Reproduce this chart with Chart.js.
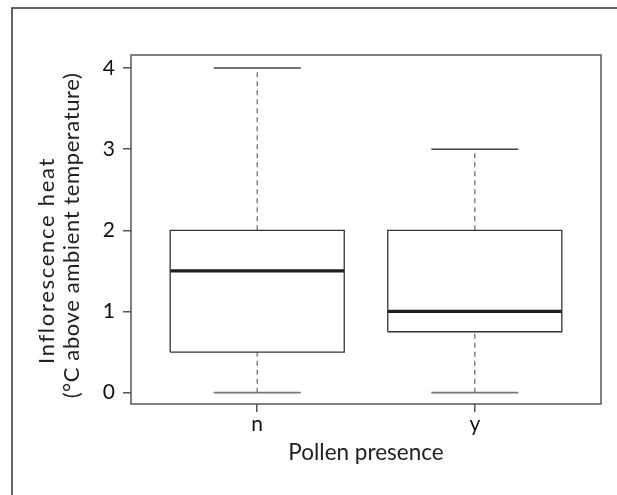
<!DOCTYPE html>
<html>
<head>
<meta charset="utf-8">
<script src="https://cdn.jsdelivr.net/npm/chart.js@4"></script>
<style>
  html, body { margin: 0; padding: 0; background: #fff; }
  #wrap { position: relative; width: 617px; height: 495px; }
</style>
</head>
<body>
<div id="wrap"><canvas id="c" width="617" height="495"></canvas></div>
<script>
// ---- data ----
const categories = ['n', 'y'];
const minValues    = [0, 0];
const q1Values     = [0.5, 0.75];
const medianValues = [1.5, 1];
const q3Values     = [2, 2];
const maxValues    = [4, 3];
const yTicks = [0, 1, 2, 3, 4];
const yTitleLines = ['Inflorescence heat', '(°C above ambient temperature)'];
const xTitle = 'Pollen presence';

// ---- style constants ----
const BOX_HALF = 0.4;    // half box width in category units
const CAP_HALF = 0.2;    // half staple width
const FONT = 'Lato, "Open Sans", "DejaVu Sans", sans-serif';

const datasets = [];
categories.forEach((cat, i) => {
  const x = i + 1;
  datasets.push({
    data: [
      {x: x - BOX_HALF, y: q1Values[i]}, {x: x + BOX_HALF, y: q1Values[i]},
      {x: x + BOX_HALF, y: q3Values[i]}, {x: x - BOX_HALF, y: q3Values[i]},
      {x: x - BOX_HALF, y: q1Values[i]}
    ],
    borderColor: '#333', borderWidth: 1.3, showLine: true, pointRadius: 0, fill: false
  });
  datasets.push({
    data: [{x: x, y: q3Values[i]}, {x: x, y: maxValues[i]}],
    borderColor: '#666', borderWidth: 1.2, borderDash: [5, 4], showLine: true, pointRadius: 0
  });
  datasets.push({
    data: [{x: x, y: minValues[i]}, {x: x, y: q1Values[i]}],
    borderColor: '#666', borderWidth: 1.2, borderDash: [5, 4], showLine: true, pointRadius: 0
  });
  datasets.push({
    data: [{x: x - CAP_HALF, y: maxValues[i]}, {x: x + CAP_HALF, y: maxValues[i]}],
    borderColor: '#444', borderWidth: 1.5, showLine: true, pointRadius: 0
  });
  datasets.push({
    data: [{x: x - CAP_HALF, y: minValues[i]}, {x: x + CAP_HALF, y: minValues[i]}],
    borderColor: '#777', borderWidth: 1.6, showLine: true, pointRadius: 0
  });
  datasets.push({
    data: [{x: x - BOX_HALF, y: medianValues[i]}, {x: x + BOX_HALF, y: medianValues[i]}],
    borderColor: '#1e1e1e', borderWidth: 3.2, showLine: true, pointRadius: 0
  });
});

const framePlugin = {
  id: 'frame',
  beforeDraw(chart) {
    const ctx = chart.ctx;
    ctx.save();
    ctx.fillStyle = '#fff';
    ctx.fillRect(0, 0, chart.width, chart.height);
    ctx.strokeStyle = '#333';
    ctx.lineWidth = 1.5;
    ctx.beginPath();
    ctx.moveTo(12, chart.height);
    ctx.lineTo(12, 8);
    ctx.lineTo(chart.width, 8);
    ctx.stroke();
    ctx.restore();
  },
  afterDatasetsDraw(chart) {
    const {left, right, top, bottom} = chart.chartArea;
    const ctx = chart.ctx;
    ctx.save();
    ctx.strokeStyle = '#555';
    ctx.lineWidth = 1.5;
    ctx.strokeRect(left, top, right - left, bottom - top);
    ctx.restore();
  },
  afterDraw(chart) {
    const ctx = chart.ctx;
    const cy = (chart.chartArea.top + chart.chartArea.bottom) / 2;
    const specs = [
      {text: yTitleLines[0], x: 47, dy: 31, spacing: '1.7px'},
      {text: yTitleLines[1], x: 72, dy: 6, spacing: '0.6px'}
    ];
    ctx.save();
    ctx.fillStyle = '#222';
    ctx.font = '22px ' + FONT;
    ctx.textAlign = 'center';
    ctx.textBaseline = 'middle';
    specs.forEach(s => {
      ctx.save();
      ctx.translate(s.x, cy + s.dy);
      ctx.rotate(-Math.PI / 2);
      if ('letterSpacing' in ctx) ctx.letterSpacing = s.spacing;
      ctx.fillText(s.text, 0, 0);
      ctx.restore();
    });
    ctx.restore();
  }
};

new Chart(document.getElementById('c'), {
  type: 'scatter',
  data: { datasets },
  options: {
    responsive: false,
    animation: false,
    devicePixelRatio: 1,
    layout: { padding: { top: 55, right: 16, left: 0, bottom: 0 } },
    plugins: { legend: { display: false }, tooltip: { enabled: false } },
    scales: {
      x: {
        type: 'linear',
        min: 0.42, max: 2.58,
        afterFit(scale) { scale.height = 91; },
        afterBuildTicks(scale) { scale.ticks = categories.map((c, i) => ({value: i + 1})); },
        ticks: {
          callback: (v) => categories[Math.round(v) - 1] ?? '',
          color: '#111', font: { family: FONT, size: 21 }, padding: 0, maxRotation: 0
        },
        grid: { display: true, drawOnChartArea: false, drawTicks: true, tickLength: 8, color: '#555', lineWidth: 1.5 },
        border: { display: false },
        title: {
          display: true, text: xTitle, color: '#222',
          font: { family: FONT, size: 22.5 }, padding: { top: 0, bottom: 29 }
        }
      },
      y: {
        type: 'linear',
        min: -0.14, max: 4.16,
        afterFit(scale) { scale.width = 131; },
        afterBuildTicks(scale) { scale.ticks = yTicks.map(v => ({value: v})); },
        ticks: { color: '#111', font: { family: FONT, size: 21 }, padding: 8 },
        grid: { display: true, drawOnChartArea: false, drawTicks: true, tickLength: 8, color: '#555', lineWidth: 1.5 },
        border: { display: false },
        title: { display: false }
      }
    }
  },
  plugins: [framePlugin]
});
</script>
</body>
</html>
